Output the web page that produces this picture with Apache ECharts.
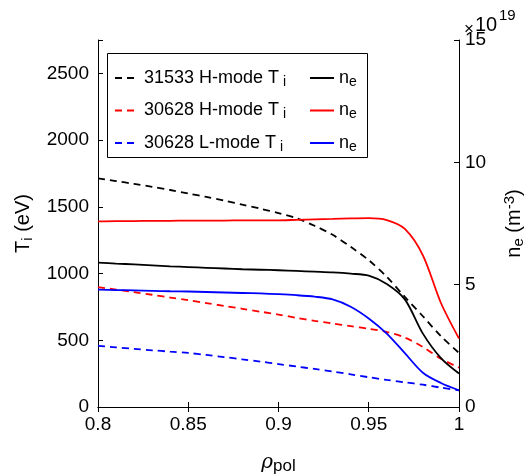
<!DOCTYPE html>
<html>
<head>
<meta charset="utf-8">
<script src="https://cdn.jsdelivr.net/npm/echarts@6/dist/echarts.min.js"></script>
<style>html,body{margin:0;padding:0;background:#fff}#c{width:528px;height:474px}</style>
</head>
<body>
<div id="c"></div>
<script>
var rho = [0.80,0.81,0.82,0.83,0.84,0.85,0.86,0.87,0.88,0.89,0.90,0.91,0.92,0.93,0.94,0.95,0.96,0.97,0.98,0.99,1.00];
var ti31533H = [1713,1693,1672,1650,1626,1600,1574,1546,1516,1486,1453,1414,1358,1290,1200,1100,975,825,680,530,405];
var ti30628H = [898,880,861,841,820,800,779,757,736,714,693,668,646,626,606,586,562,520,450,362,295];
var ti30628L = [458,447,436,425,415,405,390,374,357,340,322,303,285,266,245,223,203,185,167,145,125];
var ne31533H = [5.90,5.86,5.83,5.79,5.75,5.72,5.69,5.66,5.63,5.61,5.59,5.56,5.53,5.50,5.45,5.37,5.03,4.40,3.00,2.00,1.37];
var ne30628H = [7.59,7.60,7.60,7.61,7.61,7.62,7.62,7.62,7.63,7.63,7.63,7.65,7.67,7.69,7.71,7.72,7.64,7.28,6.20,4.25,2.80];
var ne30628L = [4.80,4.78,4.77,4.75,4.73,4.72,4.70,4.68,4.66,4.64,4.61,4.57,4.51,4.40,4.10,3.62,3.00,2.20,1.40,0.98,0.68];
var xTicks = ['0.8','0.85','0.9','0.95','1'];
var tiTicks = [0,500,1000,1500,2000,2500];
var neTicks = [0,5,10,15];
var tiNames = ['31533 H-mode T', '30628 H-mode T', '30628 L-mode T'];

function pairs(v){ return rho.map(function(r,i){ return [r, v[i]]; }); }
var FONT = 'Liberation Sans, Arial, Helvetica, sans-serif';
var chart = echarts.init(document.getElementById('c'), null, {renderer:'canvas'});

function mk(name, data, color, dashed, yIdx){
  return {
    name: name, type: 'line', yAxisIndex: yIdx, data: pairs(data),
    symbol: 'none', smooth: 0.3,
    lineStyle: {color: color, width: 1.8, type: dashed ? [7,5] : 'solid'},
    itemStyle: {color: color}, z: 3
  };
}
var nameMap = {
  T1: '{t|' + tiNames[0] + '}{s| i}', T2: '{t|' + tiNames[1] + '}{s| i}', T3: '{t|' + tiNames[2] + '}{s| i}',
  N1: '{t|n}{s|e}', N2: '{t|n}{s|e}', N3: '{t|n}{s|e}'
};
var legRich = {
  t: {fontSize: 18, fontFamily: FONT, color: '#000', lineHeight: 22, verticalAlign: 'middle'},
  s: {fontSize: 14, fontFamily: FONT, color: '#000', lineHeight: 22, verticalAlign: 'bottom', padding: [10,0,0,0]}
};
var rowCenters = [72, 104.5, 137];
function leg(name, left, row){
  return {
    data: [name], orient: 'vertical', left: left, top: rowCenters[row] - 7, itemWidth: 24, itemHeight: 14,
    selectedMode: false, formatter: function(n){ return nameMap[n]; },
    itemStyle: {opacity: 0, color: 'rgba(0,0,0,0)', borderWidth: 0},
    textStyle: {rich: legRich, fontSize: 18, fontFamily: FONT}, padding: 0, z: 10
  };
}
var tickLbl = {color: '#000', fontSize: 19, fontFamily: FONT};
chart.setOption({
  animation: false,
  backgroundColor: '#fff',
  grid: {left: 98, right: 69, top: 40, bottom: 67, outerBoundsMode: 'none', containLabel: false},
  legend: [leg('T1', 114, 0), leg('T2', 114, 1), leg('T3', 114, 2), leg('N1', 309, 0), leg('N2', 309, 1), leg('N3', 309, 2)],
  xAxis: [{
    type: 'value', min: 0.8, max: 1.0, interval: 0.05, position: 'bottom',
    axisLine: {show: true, lineStyle: {color: '#000', width: 1}},
    axisTick: {show: true, inside: true, length: 5, lineStyle: {color: '#000'}},
    splitLine: {show: false},
    axisLabel: Object.assign({margin: 8, formatter: function(v){ var i = Math.round((v-0.8)/0.05); return xTicks[i] || ''; }}, tickLbl),
    name: '{r|ρ}{s|pol}', nameLocation: 'middle', nameGap: 44,
    nameTextStyle: {rich: {
      r: {fontSize: 20, fontFamily: 'DejaVu Serif, serif', fontStyle: 'italic', color: '#000', lineHeight: 24, verticalAlign: 'middle'},
      s: {fontSize: 17, fontFamily: FONT, color: '#000', lineHeight: 24, verticalAlign: 'bottom', padding: [12,0,0,0]}
    }}
  }, {
    type: 'value', min: 0.8, max: 1.0, interval: 0.05, position: 'top',
    axisLine: {show: true, lineStyle: {color: '#000', width: 1}},
    axisTick: {show: true, inside: true, length: 5, lineStyle: {color: '#000'}},
    axisLabel: {show: false}, splitLine: {show: false}
  }],
  yAxis: [{
    type: 'value', min: 0, max: 2750, interval: 500, position: 'left',
    axisLine: {show: true, lineStyle: {color: '#000', width: 1}},
    axisTick: {show: true, inside: true, length: 5, lineStyle: {color: '#000'}},
    splitLine: {show: false},
    axisLabel: Object.assign({margin: 9, formatter: function(v){ return tiTicks.indexOf(v) >= 0 ? String(v) : ''; }}, tickLbl),
    name: '{t|T}{s|i}{t| (eV)}', nameLocation: 'middle', nameGap: 57, nameRotate: 90,
    nameTextStyle: {rich: {
      t: {fontSize: 20, fontFamily: FONT, color: '#000', lineHeight: 24, verticalAlign: 'middle'},
      s: {fontSize: 15, fontFamily: FONT, color: '#000', lineHeight: 24, verticalAlign: 'bottom', padding: [12,0,0,0]}
    }}
  }, {
    type: 'value', min: 0, max: 15, interval: 5, position: 'right',
    axisLine: {show: true, lineStyle: {color: '#000', width: 1}},
    axisTick: {show: true, inside: true, length: 5, lineStyle: {color: '#000'}},
    splitLine: {show: false},
    axisLabel: Object.assign({margin: 6, formatter: function(v){ return neTicks.indexOf(v) >= 0 ? String(v) : ''; }}, tickLbl),
    name: '{t|n}{s|e}{t| (m}{p|-3}{t|)}', nameLocation: 'middle', nameGap: 43, nameRotate: 90,
    nameTextStyle: {rich: {
      t: {fontSize: 20, fontFamily: FONT, color: '#000', lineHeight: 24, verticalAlign: 'middle'},
      s: {fontSize: 15, fontFamily: FONT, color: '#000', lineHeight: 24, verticalAlign: 'bottom', padding: [12,0,0,0]},
      p: {fontSize: 15, fontFamily: FONT, color: '#000', lineHeight: 24, verticalAlign: 'top', padding: [0,0,10,0]}
    }}
  }],
  graphic: [
    {type: 'rect', left: 107, top: 53, shape: {width: 260, height: 104}, style: {fill: '#fff', stroke: '#000', lineWidth: 1}, z: 5},
    {type: 'text', left: 464, top: 21, style: {text: '×', fontSize: 17, fontFamily: FONT, fill: '#000'}, z: 6},
    {type: 'text', left: 475, top: 15, style: {text: '10', fontSize: 20, fontFamily: FONT, fill: '#000'}, z: 6},
    {type: 'text', left: 499, top: 8, style: {text: '19', fontSize: 15, fontFamily: FONT, fill: '#000'}, z: 6}
  ],
  series: [
    mk('T1', ti31533H, '#000000', true, 0),
    mk('T2', ti30628H, '#ff0000', true, 0),
    mk('T3', ti30628L, '#0000ff', true, 0),
    mk('N1', ne31533H, '#000000', false, 1),
    mk('N2', ne30628H, '#ff0000', false, 1),
    mk('N3', ne30628L, '#0000ff', false, 1)
  ]
});
</script>
</body>
</html>
